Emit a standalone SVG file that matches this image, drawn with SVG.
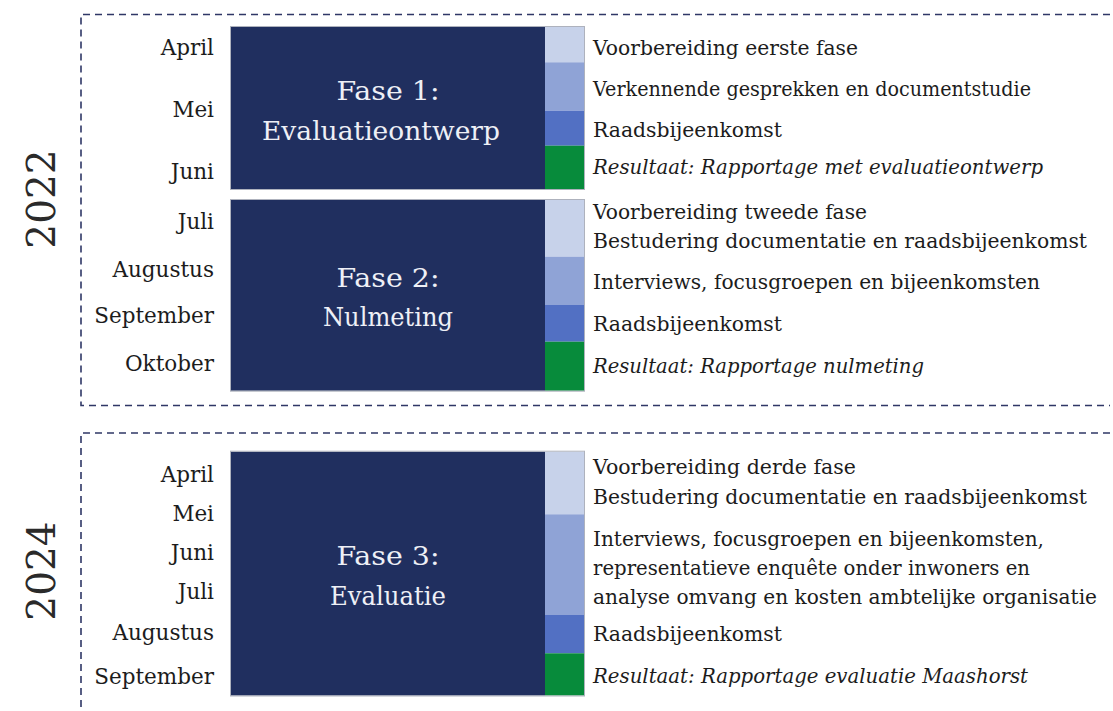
<svg xmlns="http://www.w3.org/2000/svg" width="1113" height="711" viewBox="0 0 1113 711">
<style>
.dash{fill:none;stroke:#2f3766;stroke-width:1.6;stroke-dasharray:7 5}
.box{fill:#202f5f}
.frame{fill:none;stroke:#aeb2bd;stroke-width:1}
.s1{fill:#c7d2ea}.s2{fill:#8fa3d6}.s3{fill:#5270c3}.s4{fill:#078b3b}
.t{font-family:"DejaVu Serif","Liberation Serif",serif;font-size:20.5px;fill:#1c1c1c}
.m{text-anchor:end;font-size:21.5px}
.i{font-style:italic}
.f{font-family:"DejaVu Serif","Liberation Serif",serif;font-size:25.5px;fill:#eef0f6;text-anchor:middle}
.y{font-family:"DejaVu Serif","Liberation Serif",serif;font-size:39px;fill:#2a2a2a;text-anchor:middle}
</style>
<g id="section-2022">
<path class="dash" d="M1110,14.5 H81 V405.5 H1110"/>
<text class="y" transform="translate(55,199) rotate(-90)">2022</text>
</g>
<g id="section-2024">
<path class="dash" d="M1110,433 H81 V711"/>
<text class="y" transform="translate(55,571) rotate(-90)">2024</text>
</g>
<g id="fase1">
<rect class="box" x="231" y="27" width="314" height="162"/>
<rect class="s1" x="545" y="27" width="39" height="35.3"/>
<rect class="s2" x="545" y="62.3" width="39" height="48.4"/>
<rect class="s3" x="545" y="110.7" width="39" height="35"/>
<rect class="s4" x="545" y="145.7" width="39" height="43.3"/>
<rect class="frame" x="230.5" y="26.5" width="354" height="163"/>
<text class="f" x="388" y="100" textLength="103" lengthAdjust="spacingAndGlyphs">Fase 1:</text>
<text class="f" x="381" y="140" textLength="238" lengthAdjust="spacingAndGlyphs">Evaluatieontwerp</text>
<text class="t m" x="214" y="55">April</text>
<text class="t m" x="214" y="117">Mei</text>
<text class="t m" x="214" y="179">Juni</text>
<text class="t" x="593" y="55" textLength="265" lengthAdjust="spacingAndGlyphs">Voorbereiding eerste fase</text>
<text class="t" x="593" y="96" textLength="438" lengthAdjust="spacingAndGlyphs">Verkennende gesprekken en documentstudie</text>
<text class="t" x="593" y="137" textLength="189" lengthAdjust="spacingAndGlyphs">Raadsbijeenkomst</text>
<text class="t i" x="593" y="174" textLength="450" lengthAdjust="spacingAndGlyphs">Resultaat: Rapportage met evaluatieontwerp</text>
</g>
<g id="fase2">
<rect class="box" x="231" y="200" width="314" height="190.7"/>
<rect class="s1" x="545" y="200" width="39" height="56.7"/>
<rect class="s2" x="545" y="256.7" width="39" height="48.3"/>
<rect class="s3" x="545" y="305" width="39" height="36.7"/>
<rect class="s4" x="545" y="341.7" width="39" height="49"/>
<rect class="frame" x="230.5" y="199.5" width="354" height="191.7"/>
<text class="f" x="388" y="287" textLength="103" lengthAdjust="spacingAndGlyphs">Fase 2:</text>
<text class="f" x="388" y="326" textLength="130" lengthAdjust="spacingAndGlyphs">Nulmeting</text>
<text class="t m" x="214" y="229">Juli</text>
<text class="t m" x="214" y="277">Augustus</text>
<text class="t m" x="214" y="323">September</text>
<text class="t m" x="214" y="371">Oktober</text>
<text class="t" x="593" y="219" textLength="274" lengthAdjust="spacingAndGlyphs">Voorbereiding tweede fase</text>
<text class="t" x="593" y="248" textLength="494" lengthAdjust="spacingAndGlyphs">Bestudering documentatie en raadsbijeenkomst</text>
<text class="t" x="593" y="289" textLength="447" lengthAdjust="spacingAndGlyphs">Interviews, focusgroepen en bijeenkomsten</text>
<text class="t" x="593" y="331" textLength="189" lengthAdjust="spacingAndGlyphs">Raadsbijeenkomst</text>
<text class="t i" x="593" y="373" textLength="331" lengthAdjust="spacingAndGlyphs">Resultaat: Rapportage nulmeting</text>
</g>
<g id="fase3">
<rect class="box" x="231" y="451.7" width="314" height="243.8"/>
<rect class="s1" x="545" y="451.7" width="39" height="62.6"/>
<rect class="s2" x="545" y="514.3" width="39" height="100.7"/>
<rect class="s3" x="545" y="615" width="39" height="38.3"/>
<rect class="s4" x="545" y="653.3" width="39" height="42.2"/>
<rect class="frame" x="230.5" y="451.2" width="354" height="244.8"/>
<text class="f" x="388" y="565" textLength="103" lengthAdjust="spacingAndGlyphs">Fase 3:</text>
<text class="f" x="388" y="605" textLength="116" lengthAdjust="spacingAndGlyphs">Evaluatie</text>
<text class="t m" x="214" y="482">April</text>
<text class="t m" x="214" y="521">Mei</text>
<text class="t m" x="214" y="560">Juni</text>
<text class="t m" x="214" y="599">Juli</text>
<text class="t m" x="214" y="640">Augustus</text>
<text class="t m" x="214" y="684">September</text>
<text class="t" x="593" y="474" textLength="263" lengthAdjust="spacingAndGlyphs">Voorbereiding derde fase</text>
<text class="t" x="593" y="504" textLength="494" lengthAdjust="spacingAndGlyphs">Bestudering documentatie en raadsbijeenkomst</text>
<text class="t" x="593" y="546" textLength="451" lengthAdjust="spacingAndGlyphs">Interviews, focusgroepen en bijeenkomsten,</text>
<text class="t" x="593" y="575" textLength="437" lengthAdjust="spacingAndGlyphs">representatieve enquête onder inwoners en</text>
<text class="t" x="593" y="604" textLength="504" lengthAdjust="spacingAndGlyphs">analyse omvang en kosten ambtelijke organisatie</text>
<text class="t" x="593" y="641" textLength="189" lengthAdjust="spacingAndGlyphs">Raadsbijeenkomst</text>
<text class="t i" x="593" y="683" textLength="435" lengthAdjust="spacingAndGlyphs">Resultaat: Rapportage evaluatie  Maashorst</text>
</g>
<g id="connectors"/>
</svg>
